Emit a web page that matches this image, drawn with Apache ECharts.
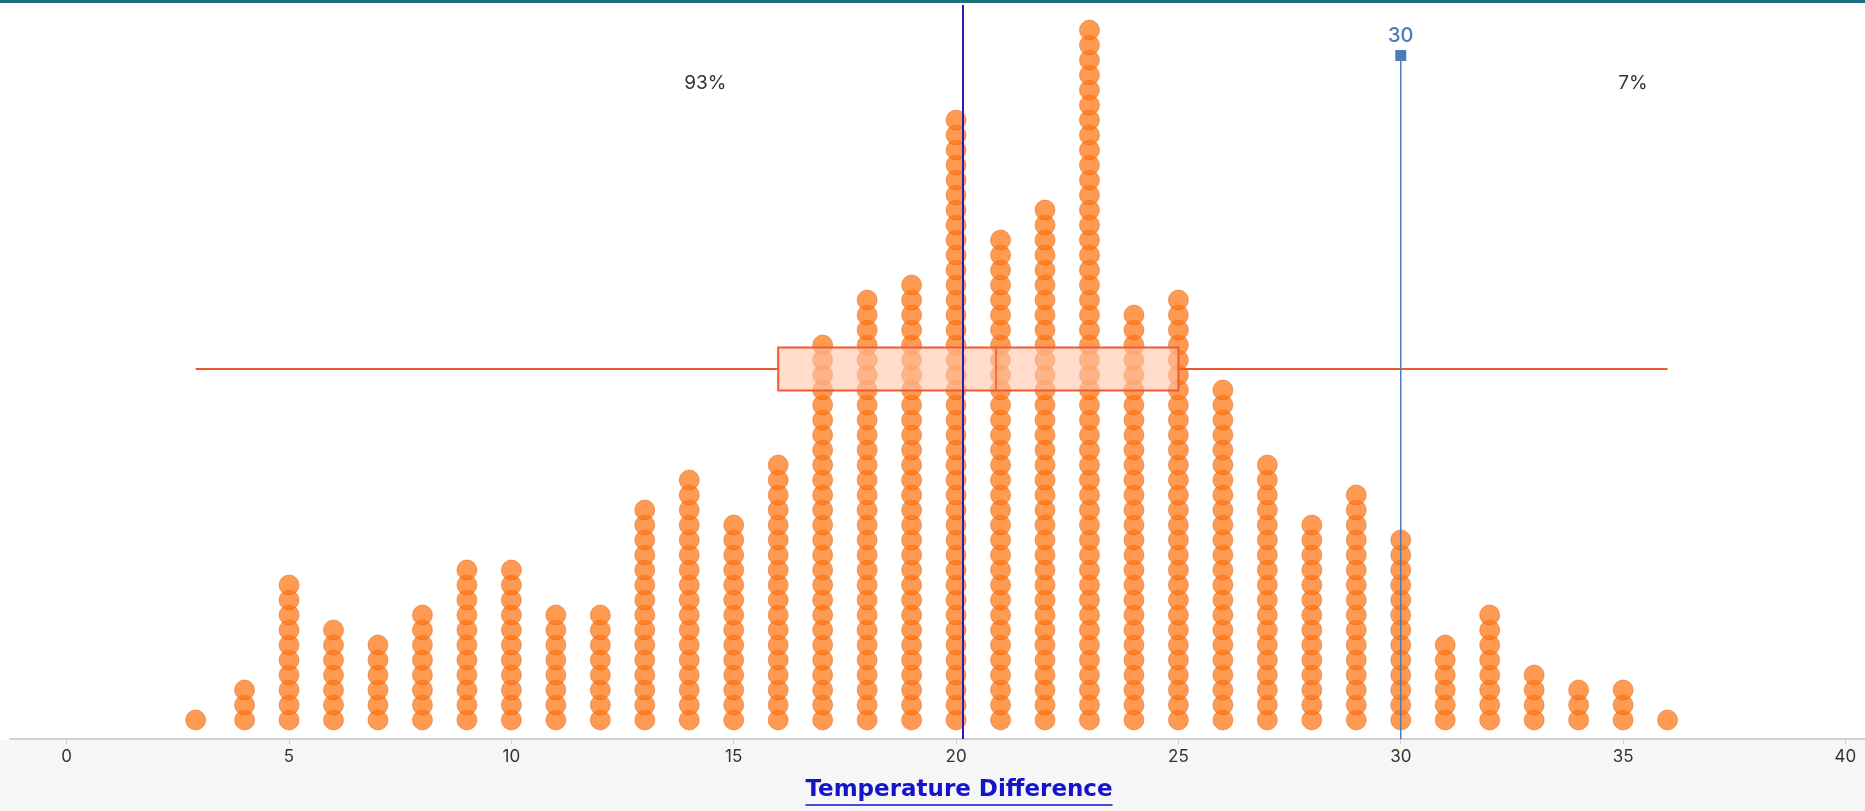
<!DOCTYPE html>
<html>
<head>
<meta charset="utf-8">
<script src="https://cdn.jsdelivr.net/npm/echarts@6/dist/echarts.min.js"></script>
<style>
html,body{margin:0;padding:0;background:#fff;}
#chart{width:1865px;height:811px;}
</style>
</head>
<body>
<div id="chart"></div>
<script>
// ---- data ----
const xValues = [2.9, 4, 5, 6, 7, 8, 9, 10, 11, 12, 13, 14, 15, 16, 17, 18, 19, 20, 21, 22, 23, 24, 25, 26, 27, 28, 29, 30, 31, 32, 33, 34, 35, 36];
const counts  = [1, 3, 10, 7, 6, 8, 11, 11, 8, 8, 15, 17, 14, 18, 26, 29, 30, 41, 33, 35, 47, 28, 29, 23, 18, 14, 16, 13, 6, 8, 4, 3, 3, 1];
const boxStats = [2.9, 16, 20.9, 25, 36]; // min, q1, median, q3, max
const meanValue = 20.14;
const thresholdValue = [30];
const shareLabels = ['93%', '7%'];
const tickValues = [0, 5, 10, 15, 20, 25, 30, 35, 40];
const axisTitle = 'Temperature Difference';

// ---- layout constants ----
const X_MIN = -1.275, X_MAX = 40.44;
const Y_MIN = -1.27, Y_MAX = 47.67;
const BOX_LEVEL = 23.4;
const BOX_HALF = 21.5;
const MARKER_LEVEL = 44.3;
const FONT = 'Inter, "Open Sans", sans-serif';
const TITLE_FONT = '600 23px "DejaVu Sans", sans-serif';

const dots = [];
xValues.forEach((x, i) => {
  for (let k = 0; k < counts[i]; k++) dots.push([x, k]);
});

// measure title width for the underline
const mctx = document.createElement('canvas').getContext('2d');
mctx.font = TITLE_FONT;
const titleW = mctx.measureText(axisTitle).width;
const titleCx = 959;

const chart = echarts.init(document.getElementById('chart'), null, {renderer: 'canvas'});

const option = {
  animation: false,
  backgroundColor: '#ffffff',
  grid: {left: 10, right: 0, top: 5, bottom: 72, containLabel: false},
  xAxis: {
    type: 'value', min: X_MIN, max: X_MAX,
    splitLine: {show: false},
    axisLine: {show: true, onZero: false, lineStyle: {color: '#d0d0d0', width: 2}},
    axisTick: {show: true, customValues: tickValues, length: 5, lineStyle: {color: '#cccccc'}},
    axisLabel: {show: true, customValues: tickValues, color: '#333', fontSize: 17, fontFamily: FONT, margin: 9}
  },
  yAxis: {
    type: 'value', min: Y_MIN, max: Y_MAX, show: false, splitLine: {show: false}
  },
  graphic: [
    {type: 'rect', shape: {x: 0, y: 740, width: 1865, height: 71}, style: {fill: '#f6f6f6'}, z: -10, silent: true},
    {type: 'rect', shape: {x: 0, y: 0, width: 1865, height: 3}, style: {fill: '#1f6f7f'}, z: 10, silent: true},
    {type: 'text', x: titleCx, y: 790, style: {text: axisTitle, fill: '#1414c8', font: TITLE_FONT, align: 'center', verticalAlign: 'middle'}, z: 10},
    {type: 'line', shape: {x1: titleCx - titleW / 2, y1: 805, x2: titleCx + titleW / 2, y2: 805}, style: {stroke: '#1414c8', lineWidth: 1.5}, z: 10}
  ],
  series: [
    {
      type: 'scatter',
      data: dots,
      symbol: 'circle',
      symbolSize: 20,
      silent: true,
      z: 2,
      itemStyle: {color: 'rgba(255,118,20,0.92)', borderColor: 'rgba(220,95,14,0.6)', borderWidth: 1},
      markLine: {
        silent: true,
        symbol: 'none',
        animation: false,
        label: {show: false},
        lineStyle: {color: '#2a1db4', width: 2, type: 'solid'},
        data: [{xAxis: meanValue}]
      }
    },
    {
      type: 'custom',
      z: 3,
      silent: true,
      data: [boxStats],
      renderItem: function (params, api) {
        const yc = api.coord([0, BOX_LEVEL])[1];
        const pMin = api.coord([api.value(0), BOX_LEVEL])[0];
        const pQ1 = api.coord([api.value(1), BOX_LEVEL])[0];
        const pMed = api.coord([api.value(2), BOX_LEVEL])[0];
        const pQ3 = api.coord([api.value(3), BOX_LEVEL])[0];
        const pMax = api.coord([api.value(4), BOX_LEVEL])[0];
        const stroke = '#ee5a30';
        return {
          type: 'group',
          children: [
            {type: 'line', shape: {x1: pMin, y1: yc, x2: pQ1, y2: yc}, style: {stroke: stroke, lineWidth: 2}},
            {type: 'line', shape: {x1: pQ3, y1: yc, x2: pMax, y2: yc}, style: {stroke: stroke, lineWidth: 2}},
            {type: 'rect', shape: {x: pQ1, y: yc - BOX_HALF, width: pQ3 - pQ1, height: BOX_HALF * 2},
              style: {fill: 'rgba(255,196,170,0.6)', stroke: stroke, lineWidth: 2}},
            {type: 'line', shape: {x1: pMed, y1: yc - BOX_HALF, x2: pMed, y2: yc + BOX_HALF}, style: {stroke: stroke, lineWidth: 1.5}}
          ]
        };
      }
    },
    {
      type: 'custom',
      z: 4,
      silent: true,
      data: [thresholdValue],
      renderItem: function (params, api) {
        const cs = params.coordSys;
        const x = api.coord([api.value(0), 0])[0];
        const yTop = api.coord([api.value(0), MARKER_LEVEL])[1];
        const yBottom = cs.y + cs.height;
        const leftMid = (cs.x + x) / 2;
        const rightMid = (x + cs.x + cs.width) / 2;
        const blue = '#4a7db8';
        return {
          type: 'group',
          children: [
            {type: 'line', shape: {x1: x, y1: yTop, x2: x, y2: yBottom}, style: {stroke: blue, lineWidth: 1.5}},
            {type: 'rect', shape: {x: x - 5.5, y: yTop - 5.5, width: 11, height: 11}, style: {fill: blue}},
            {type: 'text', x: x, y: yTop - 20, style: {text: String(api.value(0)), fill: blue, font: '500 20px ' + FONT, align: 'center', verticalAlign: 'middle'}},
            {type: 'text', x: leftMid, y: 83, style: {text: shareLabels[0], fill: '#333', font: '19px ' + FONT, align: 'center', verticalAlign: 'middle'}},
            {type: 'text', x: rightMid, y: 83, style: {text: shareLabels[1], fill: '#333', font: '19px ' + FONT, align: 'center', verticalAlign: 'middle'}}
          ]
        };
      }
    }
  ]
};

chart.setOption(option);
</script>
</body>
</html>
